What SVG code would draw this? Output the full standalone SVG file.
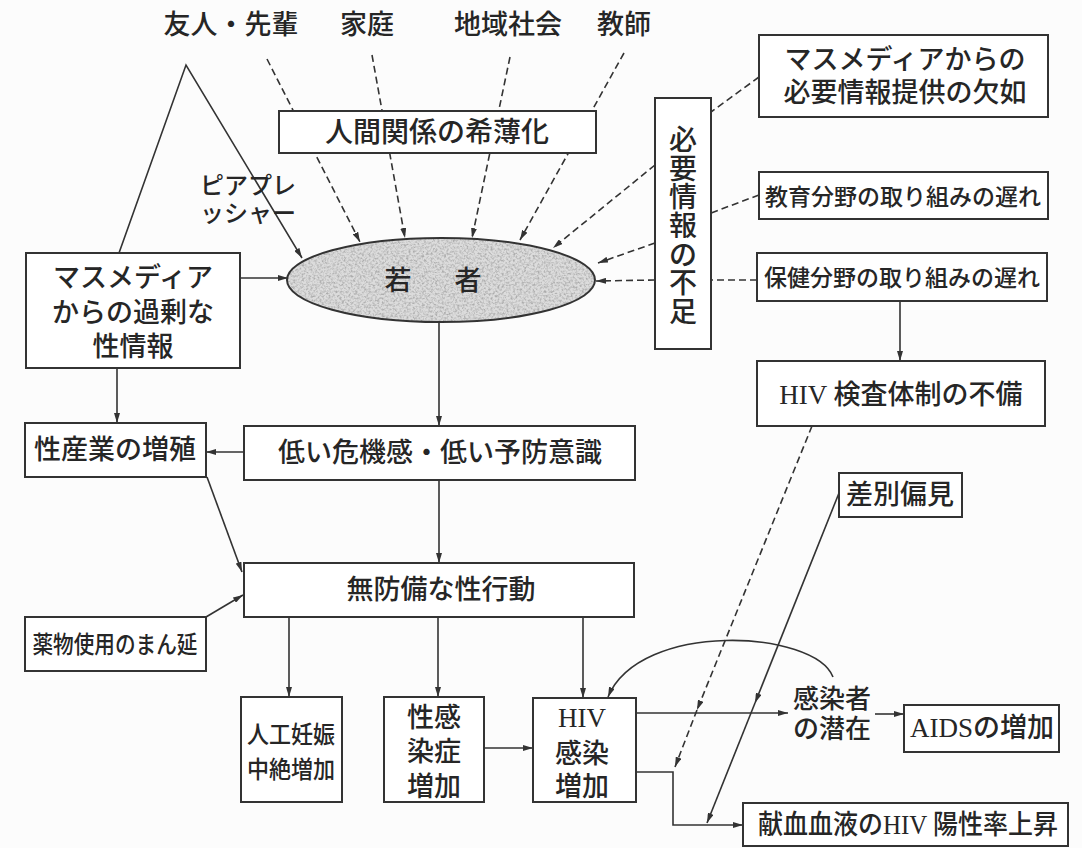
<svg xmlns="http://www.w3.org/2000/svg" width="1082" height="848" viewBox="0 0 1082 848">
<style>
.box{fill:#fff;stroke:#333;stroke-width:2}
.t{font-family:"Liberation Serif","Noto Sans CJK JP",serif;fill:#262626;text-anchor:middle;dominant-baseline:central;font-size:27px;font-weight:500}
.ln{fill:none;stroke:#333;stroke-width:1.6}
.dash{stroke-dasharray:7 4}
.arr{marker-end:url(#ah)}
</style>
<defs>
<marker id="ah" viewBox="0 0 10 6" refX="10" refY="3" markerWidth="10" markerHeight="6" markerUnits="userSpaceOnUse" orient="auto">
<path d="M0,0 L10,3 L0,6 z" fill="#333"/>
</marker>
<filter id="grain" x="0" y="0" width="100%" height="100%">
<feTurbulence type="fractalNoise" baseFrequency="0.45" numOctaves="3" seed="7" result="n"/>
<feColorMatrix in="n" type="matrix" values="0 0 0 0 0.42 0 0 0 0 0.42 0 0 0 0 0.42 2.6 0 0 0 -1.05" result="g"/>
<feComposite in="g" in2="SourceGraphic" operator="in" result="gi"/>
<feMerge><feMergeNode in="SourceGraphic"/><feMergeNode in="gi"/></feMerge>
</filter>
</defs>
<rect width="1082" height="848" fill="#fcfcfc"/>

<g id="connectors">
<path class="ln dash arr" d="M267,59 L360,242"/>
<path class="ln dash arr" d="M372,55 L405,238"/>
<path class="ln dash arr" d="M510,57 L472,238"/>
<path class="ln dash arr" d="M624,53 L520,240"/>
<path class="ln arr" d="M119,253 L186,65 L302,258"/>
<path class="ln arr" d="M240,278 L288,278"/>
<path class="ln dash arr" d="M655,165 L553,248"/>
<path class="ln dash arr" d="M655,243 L598,263"/>
<path class="ln dash arr" d="M655,280 L596,281"/>
<path class="ln dash" d="M759,77 L711,112"/>
<path class="ln dash" d="M759,195 L711,213"/>
<path class="ln dash" d="M757,280 L711,280"/>
<path class="ln arr" d="M900,301 L900,361"/>
<path class="ln arr" d="M439,322 L439,426"/>
<path class="ln arr" d="M244,452 L206,452"/>
<path class="ln arr" d="M117,368 L117,423"/>
<path class="ln arr" d="M439,480 L439,563"/>
<path class="ln arr" d="M207,477 L242,572"/>
<path class="ln arr" d="M206,617 L243,595"/>
<path class="ln arr" d="M289,617 L289,697"/>
<path class="ln arr" d="M438,617 L438,697"/>
<path class="ln arr" d="M583,617 L583,698"/>
<path class="ln arr" d="M484,748 L533,748"/>
<path class="ln arr" d="M636,713 L788,713"/>
<path class="ln arr" d="M833,677 C815,630 640,620 608,697"/>
<path class="ln arr" d="M875,714 L904,714"/>
<path class="ln arr" d="M636,772 L673,772 L673,825 L743,825"/>
<path class="ln dash arr" d="M812,426 L697,710"/>
<path class="ln dash arr" d="M697,710 L675,767"/>
<path class="ln arr" d="M839,493 L755,703"/>
<path class="ln arr" d="M755,703 L707,823"/>
</g>

<g id="n_yujin"><text class="t" x="231" y="25">友人・先輩</text></g>
<g id="n_katei"><text class="t" x="367" y="25">家庭</text></g>
<g id="n_chiiki"><text class="t" x="508" y="25">地域社会</text></g>
<g id="n_kyoshi"><text class="t" x="624" y="25">教師</text></g>

<g id="n_kankei"><rect class="box" x="279" y="111" width="317" height="42"/><text class="t" x="437" y="132" style="font-size:28px">人間関係の希薄化</text></g>

<g id="n_peer"><text class="t" x="248" y="186" style="font-size:24px">ピアプレ</text><text class="t" x="248" y="214" style="font-size:24px">ッシャー</text></g>

<g id="n_wakamono">
<ellipse cx="441" cy="280" rx="154" ry="42" fill="#dcdcdc" filter="url(#grain)"/>
<ellipse cx="441" cy="280" rx="154" ry="42" fill="none" stroke="#333" stroke-width="2"/>
<text class="t" x="437" y="281" style="letter-spacing:8px">若　者</text>
</g>

<g id="n_massL"><rect class="box" x="26" y="253" width="214" height="115"/>
<text class="t" x="133" y="278">マスメディア</text><text class="t" x="133" y="313">からの過剰な</text><text class="t" x="133" y="347">性情報</text></g>

<g id="n_hitsuyo"><rect class="box" x="655" y="98" width="56" height="251"/>
<text class="t" style="font-size:28px"><tspan x="683" y="140">必</tspan><tspan x="683" y="169">要</tspan><tspan x="683" y="197">情</tspan><tspan x="683" y="226">報</tspan><tspan x="683" y="255">の</tspan><tspan x="683" y="283">不</tspan><tspan x="683" y="312">足</tspan></text></g>

<g id="n_massR"><rect class="box" x="759" y="35" width="289" height="82"/>
<text class="t" x="905" y="60">マスメディアからの</text><text class="t" x="905" y="93">必要情報提供の欠如</text></g>

<g id="n_kyoiku"><rect class="box" x="759" y="172" width="289" height="47"/><text class="t" x="903" y="197" style="font-size:23px">教育分野の取り組みの遅れ</text></g>
<g id="n_hoken"><rect class="box" x="757" y="253" width="290" height="48"/><text class="t" x="902" y="278" style="font-size:23px">保健分野の取り組みの遅れ</text></g>
<g id="n_kensa"><rect class="box" x="757" y="361" width="288" height="65"/><text class="t" x="901" y="395">HIV 検査体制の不備</text></g>
<g id="n_sabetsu"><rect class="box" x="839" y="473" width="123" height="44"/><text class="t" x="900" y="495">差別偏見</text></g>

<g id="n_sangyo"><rect class="box" x="25" y="423" width="181" height="54"/><text class="t" x="115" y="450">性産業の増殖</text></g>
<g id="n_hikui"><rect class="box" x="244" y="426" width="391" height="54"/><text class="t" x="440" y="453">低い危機感・低い予防意識</text></g>
<g id="n_mubobi"><rect class="box" x="244" y="563" width="390" height="54"/><text class="t" x="441" y="590">無防備な性行動</text></g>
<g id="n_yakubutsu"><rect class="box" x="25" y="617" width="181" height="54"/><text class="t" x="115" y="645" style="font-size:24px" textLength="165" lengthAdjust="spacingAndGlyphs">薬物使用のまん延</text></g>

<g id="n_jinko"><rect class="box" x="241" y="697" width="101" height="105"/>
<text class="t" x="291" y="735" style="font-size:24px" textLength="88" lengthAdjust="spacingAndGlyphs">人工妊娠</text>
<text class="t" x="291" y="770" style="font-size:24px" textLength="88" lengthAdjust="spacingAndGlyphs">中絶増加</text></g>
<g id="n_seikansen"><rect class="box" x="384" y="697" width="100" height="105"/>
<text class="t" x="434" y="718">性感</text><text class="t" x="434" y="752">染症</text><text class="t" x="434" y="787">増加</text></g>
<g id="n_hiv"><rect class="box" x="533" y="698" width="103" height="104"/>
<text class="t" x="582" y="718">HIV</text><text class="t" x="582" y="754">感染</text><text class="t" x="582" y="787">増加</text></g>
<g id="n_senzai"><text class="t" x="832" y="699" style="font-size:26px">感染者</text><text class="t" x="832" y="729" style="font-size:26px">の潜在</text></g>
<g id="n_aids"><rect class="box" x="904" y="705" width="155" height="47"/><text class="t" x="982" y="728">AIDSの増加</text></g>
<g id="n_kenketsu"><rect class="box" x="743" y="803" width="325" height="43"/><text class="t" x="908" y="825" textLength="300" lengthAdjust="spacingAndGlyphs">献血血液のHIV 陽性率上昇</text></g>
</svg>
